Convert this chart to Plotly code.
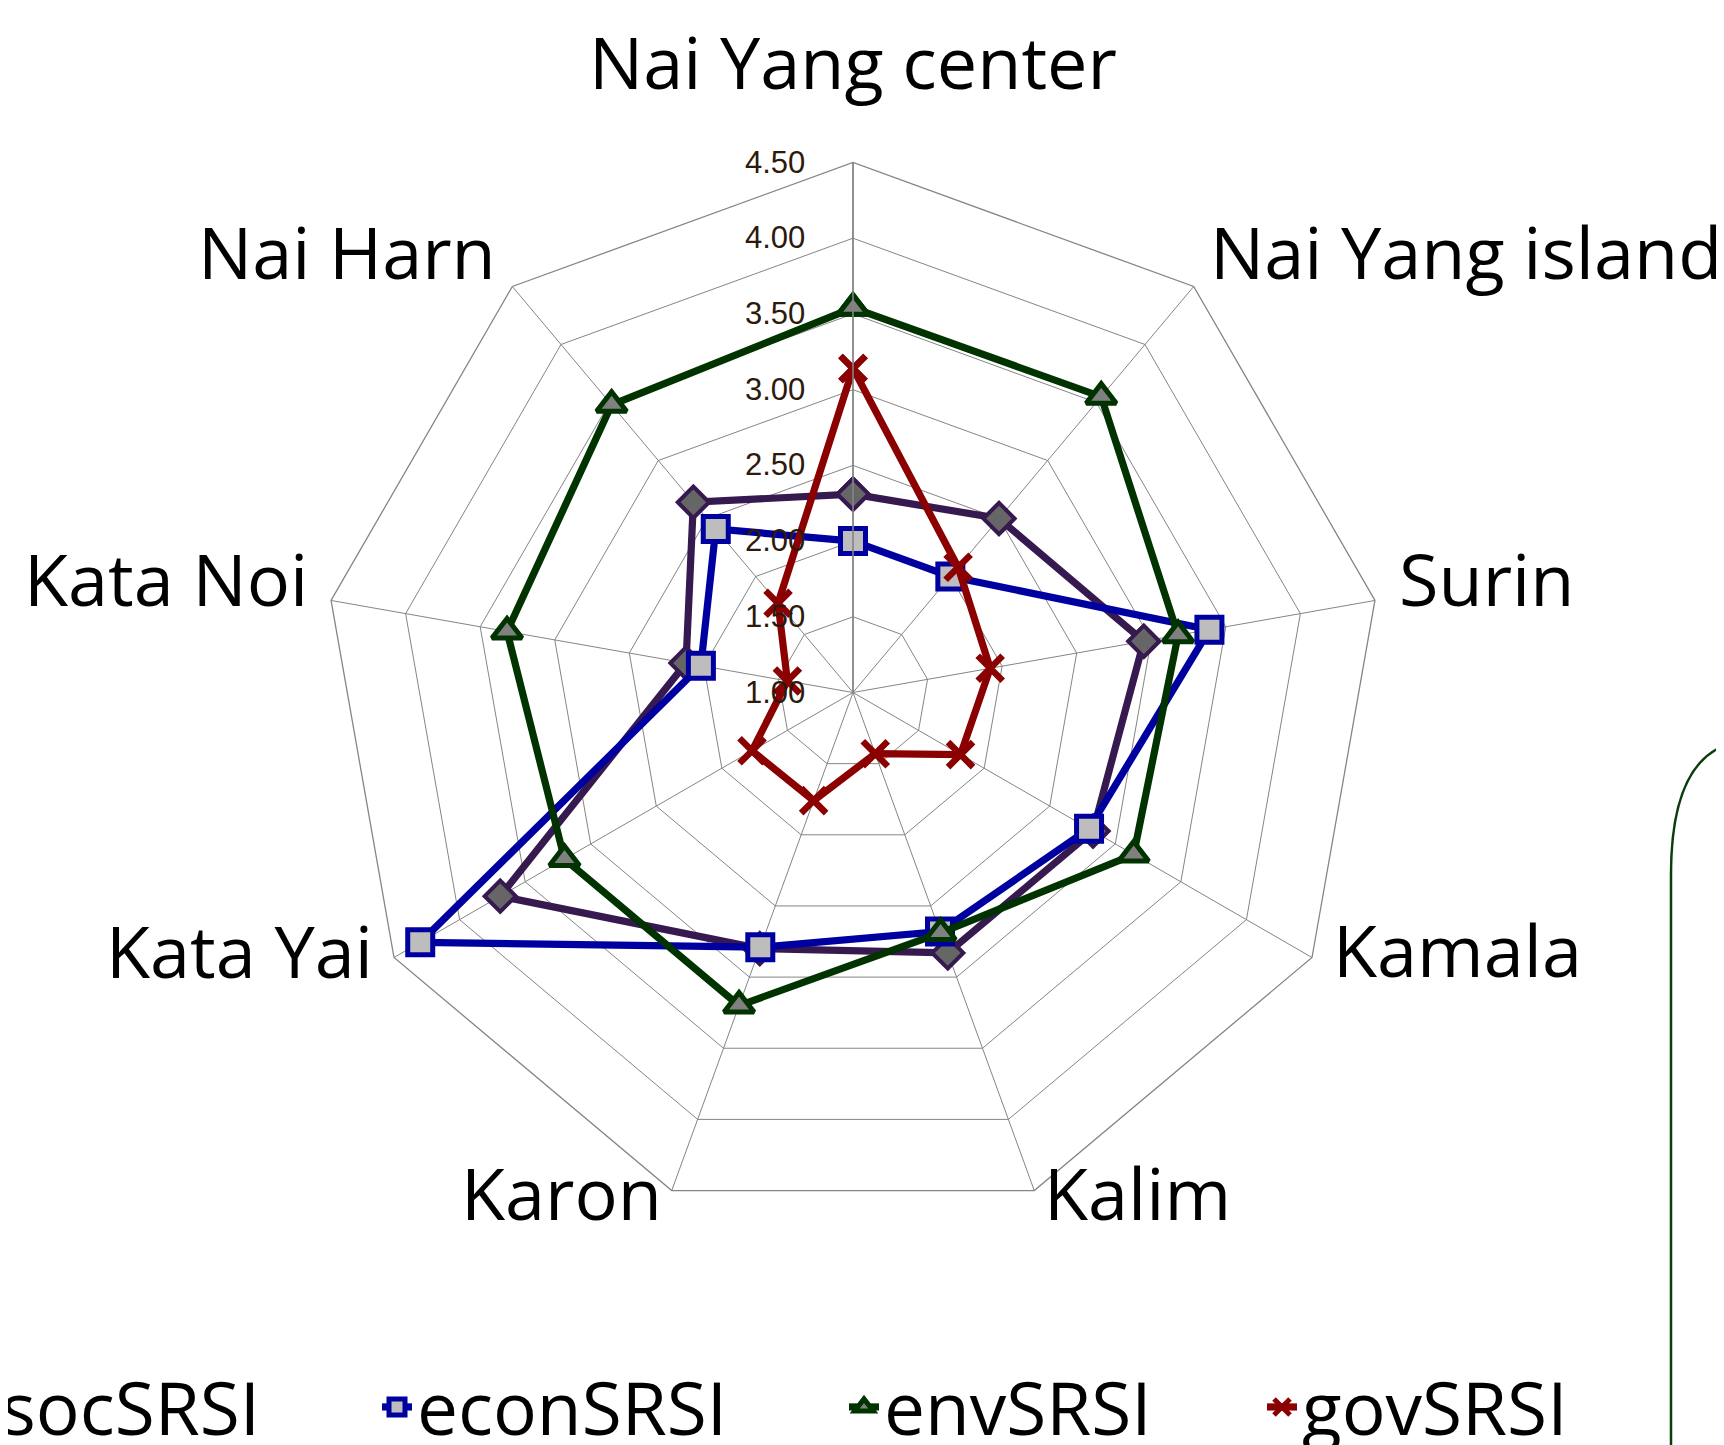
import math
import plotly.graph_objects as go

categories = ["Nai Yang center", "Nai Yang island", "Surin", "Kamala", "Kalim",
              "Karon", "Kata Yai", "Kata Noi", "Nai Harn"]
soc = [2.31, 2.50, 2.95, 2.83, 2.83, 2.80, 3.69, 2.12, 2.64]
econ = [2.00, 2.00, 3.39, 2.80, 2.68, 2.79, 4.30, 2.02, 2.41]
env = [3.54, 3.55, 3.18, 3.14, 2.69, 3.20, 3.20, 3.32, 3.48]
gov = [3.14, 2.08, 1.92, 1.82, 1.43, 1.76, 1.77, 1.44, 1.77]
radial_ticks = [1.0, 1.5, 2.0, 2.5, 3.0, 3.5, 4.0, 4.5]

W, H = 1724, 1445
OFF = 8  # page body margin
LABEL_FONT = "Open Sans"

series = [
    ("socSRSI", soc, "#35194F", dict(symbol="diamond", size=24, color="#666666",
                                     line=dict(color="#35194F", width=4)), "legend"),
    ("econSRSI", econ, "#0000A0", dict(symbol="square", size=25, color="#BDBDBD",
                                       line=dict(color="#0000A0", width=5)), "legend2"),
    ("envSRSI", env, "#003300", dict(symbol="triangle-up", size=26, color="#808080",
                                     line=dict(color="#003300", width=5)), "legend3"),
    ("govSRSI", gov, "#8B0000", dict(symbol="x-thin", size=25, color="#8B0000",
                                     line=dict(color="#8B0000", width=6.5)), "legend4"),
]

fig = go.Figure()
for name, vals, col, mk, lg in series:
    fig.add_trace(go.Scatterpolar(
        r=vals + vals[:1],
        theta=categories + categories[:1],
        mode="lines+markers",
        name=name,
        line=dict(color=col, width=7.2),
        marker=mk,
        legend=lg,
    ))

# polar placement (figure px)
cx, cy, R = 845, 684.5, 530
dom_x = [(cx - R) / W, (cx + R) / W]
dom_y = [1 - (cy + R) / H, 1 - (cy - R) / H]

# category labels as annotations around the polygon
pcx, pcy = 853.2 - OFF, 690.5 - OFF
annotations = []
n = len(categories)
for i, cat in enumerate(categories):
    a = math.radians(i * 360 / n)
    s, c = math.sin(a), -math.cos(a)
    if abs(s) < 0.2:
        d, xa = 83, "center"
    else:
        d, xa = 22, ("left" if s > 0 else "right")
    px = pcx + (R + d) * s
    py = pcy + (R + d) * c - 17
    annotations.append(dict(
        x=px / W, y=1 - py / H, xref="paper", yref="paper",
        text=cat, showarrow=False, xanchor=xa, yanchor="middle",
        font=dict(family=LABEL_FONT, size=72, color="#000000"),
    ))

legend_common = dict(orientation="h", yanchor="middle", xanchor="left",
                     y=1 - (1407 - OFF) / H, bgcolor="rgba(0,0,0,0)",
                     font=dict(family=LABEL_FONT, size=73, color="#000000"))
legend_x = [-47, 369, 836, 1254]

fig.update_layout(
    width=W, height=H,
    margin=dict(l=0, r=0, t=0, b=0, autoexpand=False),
    paper_bgcolor="white",
    showlegend=True,
    legend=dict(x=legend_x[0] / W, **legend_common),
    legend2=dict(x=legend_x[1] / W, **legend_common),
    legend3=dict(x=legend_x[2] / W, **legend_common),
    legend4=dict(x=legend_x[3] / W, **legend_common),
    annotations=annotations,
    polar=dict(
        domain=dict(x=dom_x, y=dom_y),
        gridshape="linear",
        bgcolor="white",
        angularaxis=dict(
            direction="clockwise", rotation=90,
            categoryorder="array", categoryarray=categories,
            showline=True, linecolor="#858585", linewidth=1.3,
            gridcolor="#858585", gridwidth=1.3,
            showticklabels=False, ticks="",
        ),
        radialaxis=dict(
            range=[1, 4.5], angle=90, side="counterclockwise",
            tickvals=radial_ticks, tickformat=".2f",
            showline=True, linecolor="#858585", linewidth=1.6,
            gridcolor="#858585", gridwidth=1.3,
            ticks="outside", ticklen=36, tickcolor="rgba(0,0,0,0)",
            tickangle=90,
            tickfont=dict(family="Liberation Sans", size=31, color="#2B1A0D"),
        ),
    ),
    shapes=[dict(
        type="path", xref="paper", yref="paper",
        path=(f"M {(1724 - OFF + 2) / W},{1 - (745 - OFF) / H} "
              f"Q {(1671 - OFF) / W},{1 - (765 - OFF) / H} {(1671 - OFF) / W},{1 - (875 - OFF) / H} "
              f"L {(1671 - OFF) / W},-0.02"),
        line=dict(color="#0B3D0B", width=2.5),
    )],
)

fig.write_html("out.html")
